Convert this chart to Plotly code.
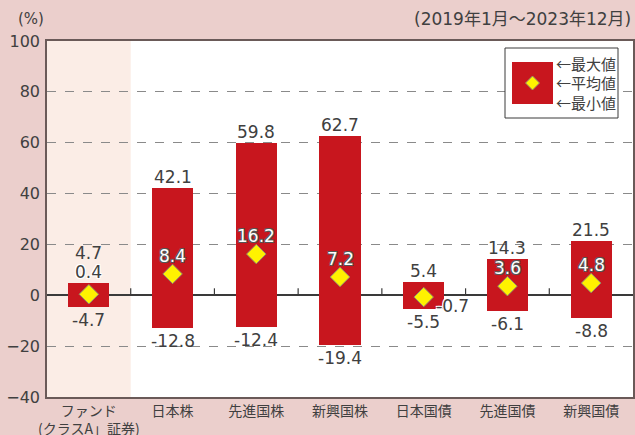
import plotly.graph_objects as go

categories = ["ファンド<br>(クラスA」証券)", "日本株", "先進国株", "新興国株", "日本国債", "先進国債", "新興国債"]
max_vals = [4.7, 42.1, 59.8, 62.7, 5.4, 14.3, 21.5]
avg_vals = [0.4, 8.4, 16.2, 7.2, -0.7, 3.6, 4.8]
min_vals = [-4.7, -12.8, -12.4, -19.4, -5.5, -6.1, -8.8]
y_ticks = [-40, -20, 0, 20, 40, 60, 80, 100]
period_text = "(2019年1月～2023年12月)"
unit_text = "(%)"
legend_labels = ["←最大値", "←平均値", "←最小値"]

FONT = "Noto Sans CJK JP"
NUM = "DejaVu Sans, Noto Sans CJK JP"
TXT = "#404040"
RED = "#C8161E"
BG = "#EBCFCC"
SHADE = "#FBEDE6"
YEL = "#FFF200"

x = list(range(len(categories)))

fig = go.Figure()
fig.add_trace(go.Bar(
    x=x, y=[mx - mn for mx, mn in zip(max_vals, min_vals)], base=min_vals,
    width=0.49, marker=dict(color=RED, line=dict(width=0)), showlegend=False,
    hoverinfo="skip"))
fig.add_trace(go.Scatter(
    x=x, y=avg_vals, mode="markers", showlegend=False,
    marker=dict(symbol="diamond", size=15, color=YEL, line=dict(color="#8f8a70", width=1))))

outline_dark = "1px 1px 0 #555, -1px -1px 0 #555, 1px -1px 0 #555, -1px 1px 0 #555"
outline_white = "1px 1px 0 #fff, -1px -1px 0 #fff, 1px -1px 0 #fff, -1px 1px 0 #fff"

ann = []
for i in x:
    ann.append(dict(x=i, y=max_vals[i], text=f"{max_vals[i]:.1f}", showarrow=False,
                    yanchor="middle", yshift=30 if i == 0 else 11,
                    font=dict(family=NUM, size=17, color=TXT)))
    ann.append(dict(x=i, y=min_vals[i], text=f"{min_vals[i]:.1f}", showarrow=False,
                    yanchor="middle", yshift=-13,
                    font=dict(family=NUM, size=17, color=TXT)))
    if i == 0:
        ann.append(dict(x=i, y=avg_vals[i], text=f"{avg_vals[i]:.1f}", showarrow=False,
                        yanchor="middle", yshift=22,
                        font=dict(family=NUM, size=17, color=TXT, shadow=outline_white)))
    elif avg_vals[i] < 0:
        ann.append(dict(x=i, y=avg_vals[i], text=f"{avg_vals[i]:.1f}", showarrow=False,
                        yanchor="middle", xshift=29, yshift=-9,
                        font=dict(family=NUM, size=17, color=TXT, shadow=outline_white)))
    else:
        ann.append(dict(x=i, y=avg_vals[i], text=f"{avg_vals[i]:.1f}", showarrow=False,
                        yanchor="middle", yshift=18,
                        font=dict(family=NUM, size=17, color="white", shadow=outline_dark)))

ann.append(dict(xref="paper", yref="paper", x=-0.027, y=1.0, yshift=22, text=unit_text,
                showarrow=False, xanchor="center", yanchor="middle",
                font=dict(family=NUM, size=15, color=TXT)))
ann.append(dict(xref="paper", yref="paper", x=1.0, y=1.0, yshift=22, text=period_text,
                showarrow=False, xanchor="right", yanchor="middle",
                font=dict(family=NUM, size=17, color=TXT)))

W, H, L, T = 586, 356, 47, 41
def px(v): return (v - L) / W
def py(v): return 1 - (v - T) / H

shapes = []
shapes.append(dict(type="rect", xref="x", yref="paper", x0=-0.5, x1=0.5, y0=0, y1=1,
                   fillcolor=SHADE, line=dict(width=0), layer="below"))
for b in [i + 0.5 for i in x[:-1]]:
    shapes.append(dict(type="line", xref="x", yref="y", x0=b, x1=b, y0=0, y1=7,
                       ysizemode="pixel", yanchor=0, line=dict(color="#3a3a3a", width=1.2)))
shapes.append(dict(type="rect", xref="paper", yref="paper", x0=px(505), x1=px(618),
                   y0=py(118), y1=py(48), fillcolor="white", line=dict(color="#3a3a3a", width=1)))
shapes.append(dict(type="rect", xref="paper", yref="paper", x0=px(512), x1=px(553),
                   y0=py(104), y1=py(62), fillcolor=RED, line=dict(width=0)))
cx, cy, r = 532.5, 83, 7
shapes.append(dict(type="path", xref="paper", yref="paper",
                   path=f"M {px(cx)} {py(cy - r)} L {px(cx + r)} {py(cy)} L {px(cx)} {py(cy + r)} L {px(cx - r)} {py(cy)} Z",
                   fillcolor=YEL, line=dict(color="#8f8a70", width=1)))
for k, lab in enumerate(legend_labels):
    ann.append(dict(xref="paper", yref="paper", x=px(554), y=py(63 + k * 19.5), text=lab,
                    showarrow=False, xanchor="left", yanchor="middle",
                    font=dict(family=FONT, size=15, color=TXT)))

fig.update_layout(
    width=635, height=435, margin=dict(l=47, r=2, t=41, b=38),
    paper_bgcolor=BG, plot_bgcolor="white",
    annotations=ann, shapes=shapes, showlegend=False,
    font=dict(family=FONT, color=TXT),
    xaxis=dict(range=[-0.5, 6.5], tickvals=x, ticktext=categories, showgrid=False,
               showline=True, mirror=True, linecolor="#6a5a58", linewidth=1.5,
               ticks="", tickfont=dict(family=FONT, size=14, color=TXT), zeroline=False,
               automargin=False, fixedrange=True),
    yaxis=dict(range=[-40, 100], tickvals=y_ticks, showgrid=True, gridcolor="#8a8a8a",
               griddash="dash", gridwidth=1, showline=True, mirror=True, linecolor="#6a5a58",
               linewidth=1.5, zeroline=True, zerolinecolor="#3a3a3a", zerolinewidth=1.5,
               ticks="", ticklabelstandoff=2, tickfont=dict(family=NUM, size=16, color=TXT),
               automargin=False, fixedrange=True),
    bargap=0,
)
fig.write_html("out.html")
